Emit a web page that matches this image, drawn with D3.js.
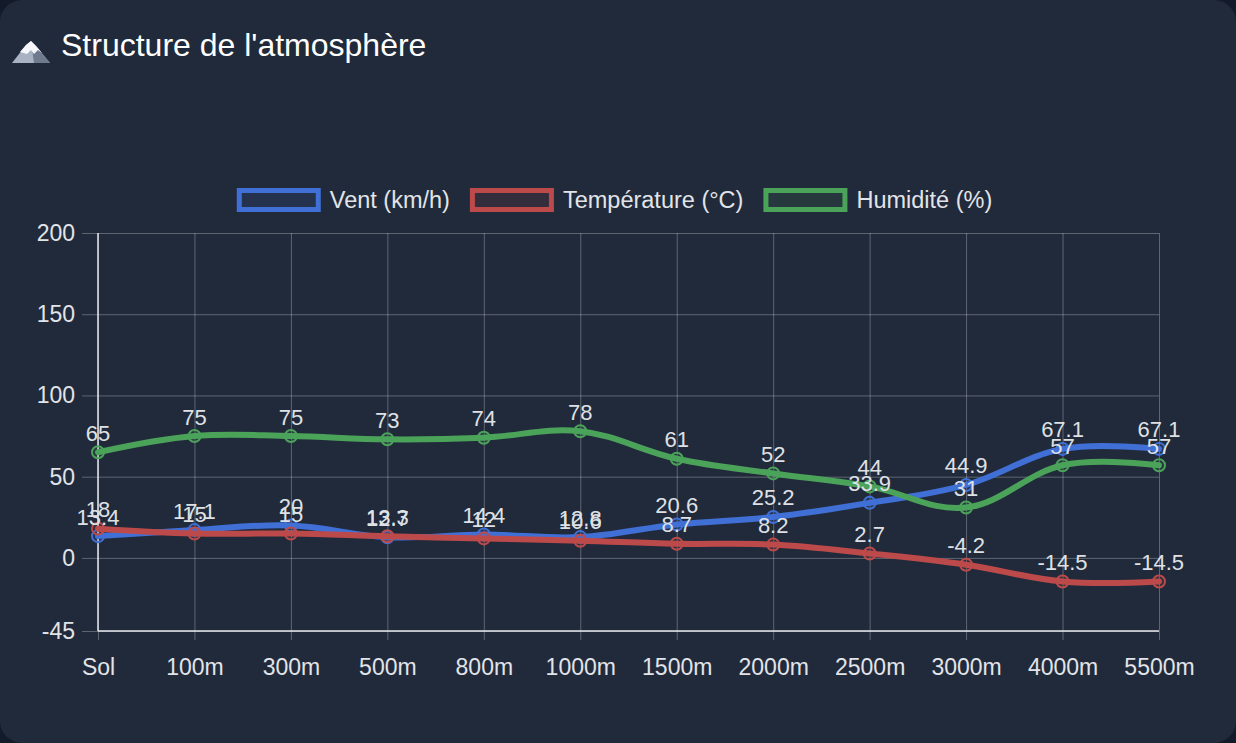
<!DOCTYPE html>
<html>
<head>
<meta charset="utf-8">
<script src="https://cdn.jsdelivr.net/npm/d3@7"></script>
<style>
  html, body { margin: 0; padding: 0; background: #131a2a; }
  #card { width: 1236px; height: 743px; background: #212a3b; border-radius: 22px; overflow: hidden; }
  svg { display: block; font-family: "Liberation Sans", Arial, Helvetica, sans-serif; }
</style>
</head>
<body>
<div id="card"></div>
<script>
const width = 1236;
const height = 743;

// DONNÉES
const altitudes = ["Sol", "100m", "300m", "500m", "800m", "1000m", "1500m", "2000m", "2500m", "3000m", "4000m", "5500m"];
const vent = [13.4, 17.1, 20, 12.7, 14.4, 12.8, 20.6, 25.2, 33.9, 44.9, 67.1, 67.1];
const temperature = [18, 15, 15, 13.3, 12, 10.6, 8.7, 8.2, 2.7, -4.2, -14.5, -14.5];
const humidite = [65, 75, 75, 73, 74, 78, 61, 52, 44, 31, 57, 57];
const yTicks = [-45, 0, 50, 100, 150, 200];

const series = [
  { name: "Vent (km/h)", values: vent, color: "#4070d6", fill: "rgba(64,112,214,0.12)" },
  { name: "Température (°C)", values: temperature, color: "#bd4a4a", fill: "rgba(189,74,74,0.12)" },
  { name: "Humidité (%)", values: humidite, color: "#4ba35a", fill: "rgba(75,163,90,0.12)" }
];

const plot = { left: 98, right: 1159, top: 233, bottom: 631 };

const svg = d3.select("#card")
  .append("svg")
  .attr("width", width)
  .attr("height", height);

// TITRE
const icon = svg.append("g").attr("transform", "translate(12,38)");
icon.append("path")
  .attr("d", "M0,25 L14,7 L19,3 L24,8 L38,25 Z")
  .attr("fill", "#a9b2c2");
icon.append("path")
  .attr("d", "M19,3 L24,8 L38,25 L22,25 Z")
  .attr("fill", "#6f7a8e");
icon.append("path")
  .attr("d", "M8,14 L14,7 L19,3 L24,8 L30,15 L26,12 L22,16 L19,12 L15,16 Z")
  .attr("fill", "#f5f7fa");

svg.append("text")
  .attr("x", 61)
  .attr("y", 56)
  .attr("fill", "#ffffff")
  .attr("font-size", "32px")
  .text("Structure de l'atmosphère");

// ÉCHELLES
const x = d3.scalePoint()
  .domain(altitudes)
  .range([plot.left, plot.right]);

const y = d3.scaleLinear()
  .domain([-45, 200])
  .range([plot.bottom, plot.top]);

// GRILLE + AXES
const gridColor = "rgba(255,255,255,0.28)";

const yAxis = svg.append("g")
  .attr("transform", `translate(${plot.left},0)`)
  .call(d3.axisLeft(y)
    .tickValues(yTicks)
    .tickSize(16)
    .tickPadding(7)
    .tickFormat(d => String(d)));
yAxis.select(".domain").remove();
yAxis.selectAll(".tick line")
  .attr("x1", -16)
  .attr("x2", plot.right - plot.left)
  .attr("stroke", gridColor);
yAxis.selectAll(".tick text")
  .attr("fill", "#e2e4e8")
  .attr("font-size", "23px");

const xAxis = svg.append("g")
  .attr("transform", `translate(0,${plot.bottom})`)
  .call(d3.axisBottom(x).tickSize(10).tickPadding(18));
xAxis.select(".domain").remove();
xAxis.selectAll(".tick line")
  .attr("y1", plot.top - plot.bottom)
  .attr("y2", 9)
  .attr("stroke", gridColor);
xAxis.selectAll(".tick text")
  .attr("fill", "#e2e4e8")
  .attr("font-size", "23px");

svg.append("line")
  .attr("x1", plot.left).attr("x2", plot.left)
  .attr("y1", plot.top).attr("y2", plot.bottom)
  .attr("stroke", "#e6e8ec").attr("stroke-width", 1.5);
svg.append("line")
  .attr("x1", plot.left).attr("x2", plot.right)
  .attr("y1", plot.bottom).attr("y2", plot.bottom)
  .attr("stroke", "#e6e8ec").attr("stroke-width", 1.5);

// COURBES
const line = d3.line()
  .x((d, i) => x(altitudes[i]))
  .y(d => y(d))
  .curve(d3.curveCardinal.tension(-0.1));

series.forEach(s => {
  const g = svg.append("g");
  g.append("path")
    .datum(s.values)
    .attr("d", line)
    .attr("fill", "none")
    .attr("stroke", s.color)
    .attr("stroke-width", 6)
    .attr("stroke-linejoin", "round")
    .attr("stroke-linecap", "round");

  g.selectAll("circle")
    .data(s.values)
    .enter()
    .append("circle")
    .attr("cx", (d, i) => x(altitudes[i]))
    .attr("cy", d => y(d))
    .attr("r", 6)
    .attr("fill", s.fill)
    .attr("stroke", s.color)
    .attr("stroke-width", 2);
});

// ÉTIQUETTES
series.forEach(s => {
  svg.append("g")
    .selectAll("text")
    .data(s.values)
    .enter()
    .append("text")
    .attr("x", (d, i) => x(altitudes[i]))
    .attr("y", d => y(d) - 11.5)
    .attr("text-anchor", "middle")
    .attr("fill", "#dfe1e5")
    .attr("font-size", "22px")
    .text(d => d);
});

// LÉGENDE
const legend = svg.append("g");
const items = legend.selectAll("g")
  .data(series)
  .enter()
  .append("g");

items.append("rect")
  .attr("x", 2.5)
  .attr("y", -9.5)
  .attr("width", 79)
  .attr("height", 19)
  .attr("fill", d => d.fill)
  .attr("stroke", d => d.color)
  .attr("stroke-width", 5);

items.append("text")
  .attr("x", 93)
  .attr("y", 8)
  .attr("fill", "#e2e4e8")
  .attr("font-size", "23.5px")
  .text(d => d.name);

let lx = 0;
items.each(function () {
  const w = this.getBBox().width + 2.5;
  d3.select(this).attr("transform", `translate(${lx},0)`);
  lx += w + 20;
});
const totalW = lx - 20;
legend.attr("transform", `translate(${614.5 - totalW / 2},200)`);
</script>
</body>
</html>
